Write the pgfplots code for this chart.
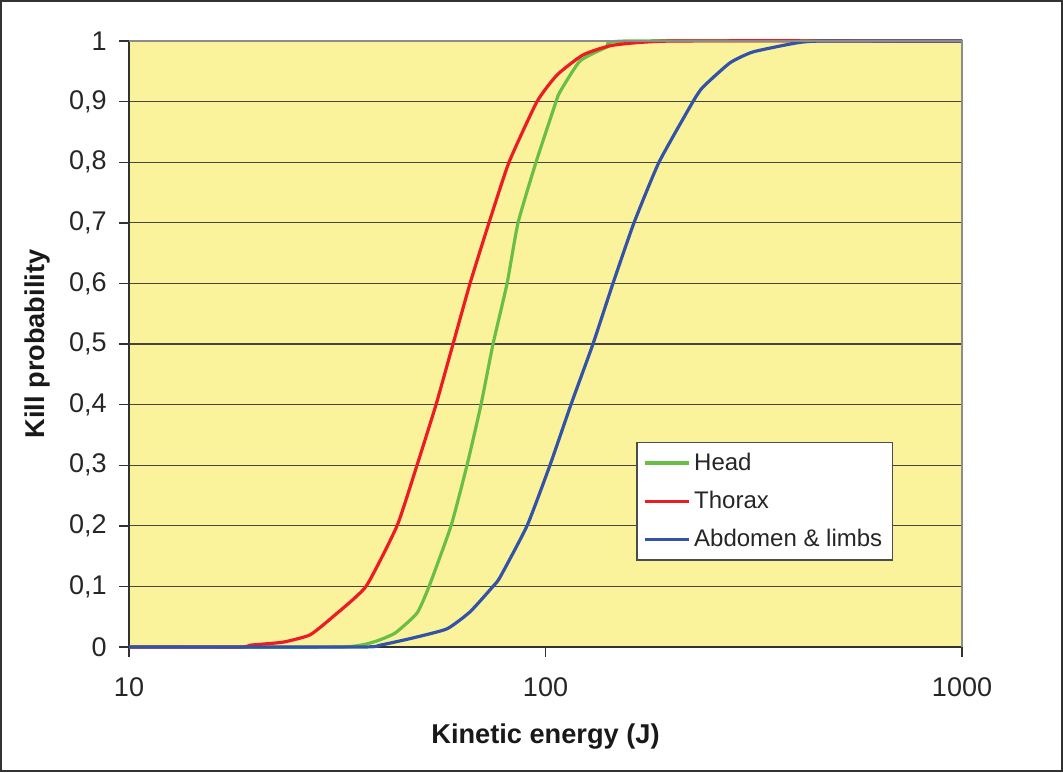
\documentclass[border=0pt]{standalone}
\usepackage{pgfplots}
\pgfplotsset{compat=1.18}
\usepackage{fontspec}
\setmainfont{Liberation Sans}

\definecolor{plotbg}{RGB}{251,243,156}
\definecolor{headgreen}{RGB}{106,190,69}
\definecolor{thoraxred}{RGB}{237,28,36}
\definecolor{abdblue}{RGB}{51,84,166}
\definecolor{gridgray}{RGB}{70,70,62}
\definecolor{framegray}{RGB}{50,50,50}

\begin{document}
\begin{tikzpicture}
\begin{axis}[
  at={(0,0)}, anchor=south west,
  xmode=log,
  scale only axis,
  width=416.5pt, height=303pt,
  xmin=10, xmax=1000,
  ymin=0, ymax=1,
  axis background/.style={fill=plotbg},
  axis x line*=bottom,
  axis y line*=left,
  axis line style={framegray, line width=0.8pt},
  xtick={10,100,1000},
  xticklabels={10,100,1000},
  xminorticks=false,
  ytick={0,0.1,0.2,0.3,0.4,0.5,0.6,0.7,0.8,0.9,1},
  yticklabels={0,{0,1},{0,2},{0,3},{0,4},{0,5},{0,6},{0,7},{0,8},{0,9},1},
  tick align=outside,
  major tick length=5pt,
  tick style={framegray, line width=0.7pt},
  ymajorgrids,
  grid style={gridgray, line width=0.6pt},
  ticklabel style={font=\fontsize{13.5}{16}\selectfont, text=black!85},
  yticklabel style={anchor=east, inner sep=0pt, xshift=-6pt},
  xticklabel style={anchor=north, inner sep=0pt, yshift=-10pt},
  xlabel={Kinetic energy (J)},
  ylabel={Kill probability},
  label style={font=\fontsize{13.6}{16}\selectfont\bfseries, text=black!90},
  xlabel style={at={(axis description cs:0.5,-0.1485)}, anchor=center},
  ylabel style={at={(axis description cs:-0.1104,0.5)}, anchor=center, rotate=0},
  legend style={
    at={(axis description cs:0.917,0.338)}, anchor=north east,
    draw=black!70, line width=0.6pt, fill=white,
    font=\fontsize{12}{14}\selectfont, text=black!85,
    row sep=5pt, inner xsep=3pt, inner ysep=3pt,
    legend cell align=left,
  },
  legend image code/.code={\draw[#1, line width=1.6pt] (0pt,0pt) -- (22pt,0pt);},
  every axis plot/.append style={line width=1.6pt, line join=round, smooth, tension=0.3},
  clip=false,
]
% Head
\addplot[headgreen] coordinates {
  (10,0) (32.11,0) (38.53,0.008) (43.53,0.023) (49.15,0.056) (52.53,0.1)
  (59.32,0.2) (64.80,0.3) (70.01,0.4) (74.82,0.5) (80.86,0.6) (85.91,0.7)
  (94.89,0.8) (106.0,0.9) (108.3,0.916) (121.0,0.967) (140.5,0.99)
  (156.9,1) (1000,1)
};
\addlegendentry{Head}
% Thorax
\addplot[thoraxred] coordinates {
  (10,0) (18.48,0) (19.52,0.003) (23.43,0.008) (27.20,0.02) (30.88,0.05)
  (37.07,0.1) (44.01,0.2) (49.15,0.3) (54.60,0.4) (59.98,0.5) (65.89,0.6)
  (73.17,0.7) (81.73,0.8) (95.41,0.9) (106.6,0.944) (123.0,0.977)
  (145.2,0.993) (202.4,1) (1000,1)
};
\addlegendentry{Thorax}
% Abdomen and limbs
\addplot[abdblue] coordinates {
  (10,0) (36.0,0) (40.05,0.003) (48.08,0.015) (58.01,0.03) (65.89,0.058)
  (74.82,0.1) (77.77,0.115) (90.29,0.2) (102.5,0.3) (115.1,0.4) (130.0,0.5)
  (145.2,0.6) (163.1,0.7) (187.3,0.8) (226.0,0.9) (238.8,0.924)
  (277.3,0.964) (314.9,0.982) (401.7,0.997) (463.8,1) (1000,1)
};
\addlegendentry{Abdomen \& limbs}
% light border on the top and right of the plot area
\draw[black!45, line width=0.7pt] (rel axis cs:0,1) -- (rel axis cs:1,1) -- (rel axis cs:1,0);
\end{axis}
% outer frame of the figure
\draw[framegray, line width=1pt] (-64pt,-62pt) rectangle (466.5pt,323pt);
\end{tikzpicture}
\end{document}
